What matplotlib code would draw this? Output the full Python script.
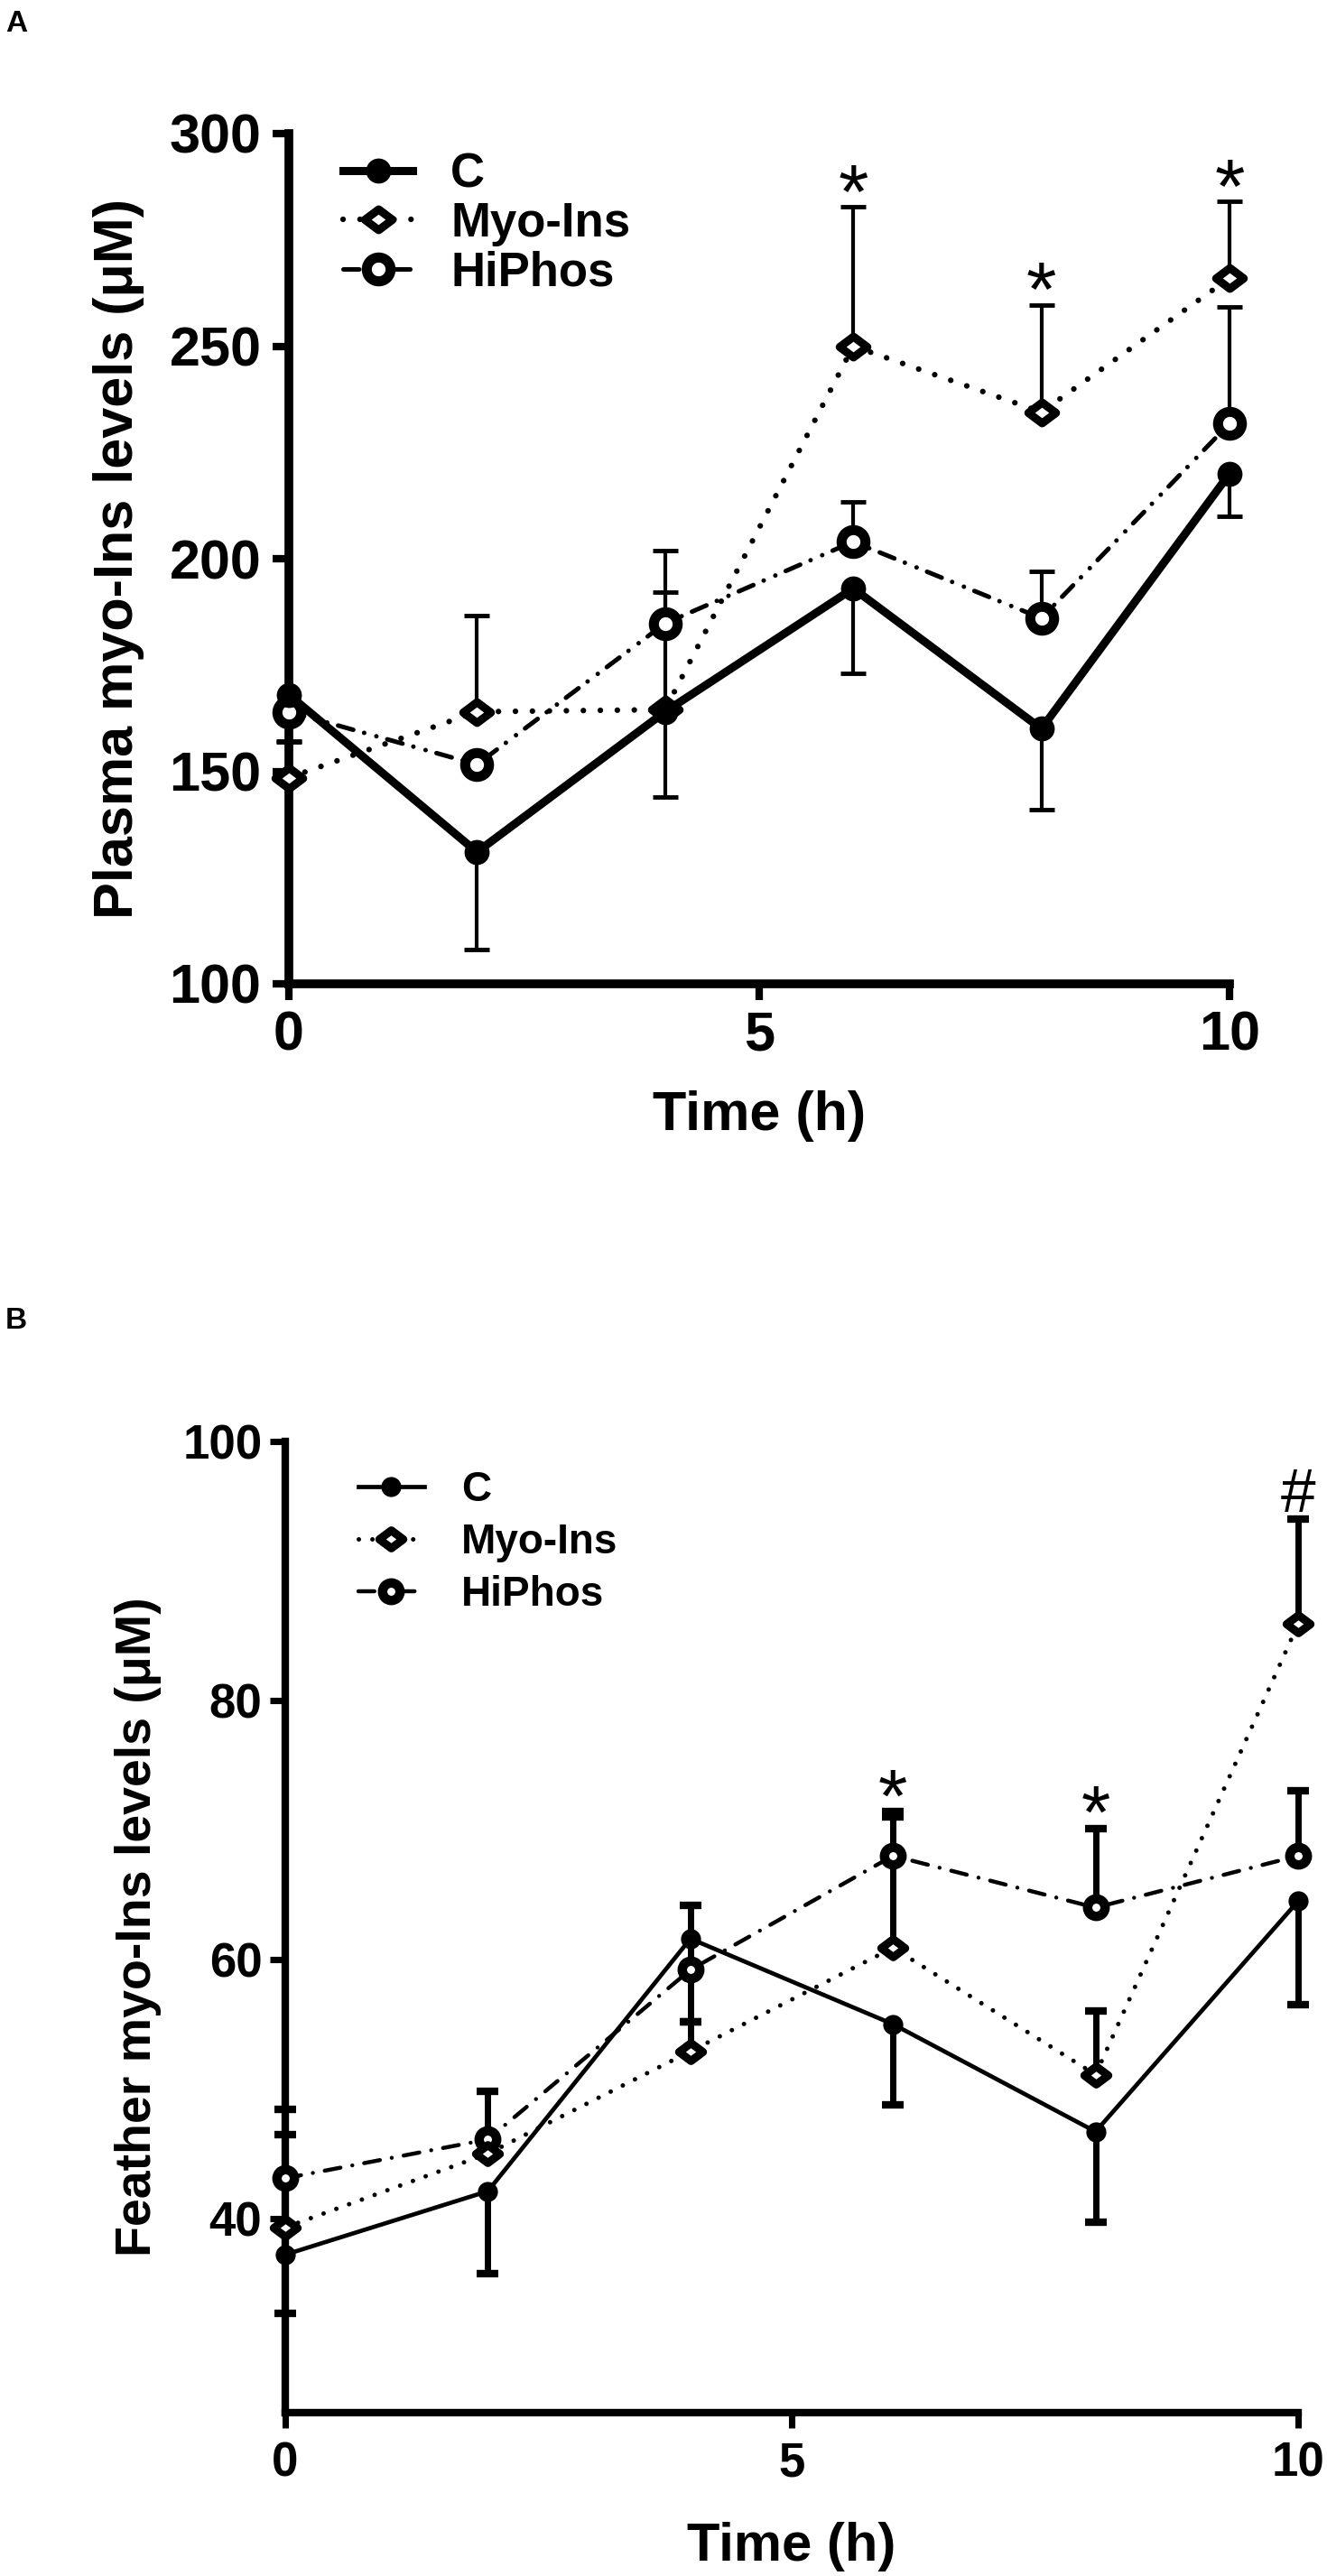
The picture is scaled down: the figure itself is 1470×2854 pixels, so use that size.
import numpy as np
import matplotlib
matplotlib.use('Agg')
import matplotlib.pyplot as plt
from matplotlib.path import Path
from matplotlib.markers import MarkerStyle

plt.rcParams['font.family'] = ['Liberation Sans', 'DejaVu Sans']
plt.rcParams['font.weight'] = 'bold'
plt.rcParams['axes.labelweight'] = 'bold'

time_h = [0, 2, 4, 6, 8, 10]
labels = ['C', 'Myo-Ins', 'HiPhos']

# panel A: plasma (C bars go down, the others go up)
plasma_c = [168, 131, 164, 193, 160, 220]
plasma_c_err = [11, 23, 20, 20, 19, 10]
plasma_myo = [148.5, 164, 164.5, 250, 234.5, 266]
plasma_myo_err = [8.7, 22.6, 37.5, 32.7, 25.2, 18]
plasma_hiphos = [164, 151.6, 184.8, 204, 186, 231.8]
plasma_hiphos_err = [np.nan, np.nan, 7.4, 9.3, 11, 27.4]
plasma_marks = ['', '', '', '*', '*', '*']

# panel B: feather
feather_c = [37.2, 42.1, 61.6, 55.0, 46.7, 64.5]
feather_c_err = [4.5, 6.4, 6.4, 6.2, 7.0, 8.0]
feather_myo = [39.3, 45.0, 52.9, 60.9, 51.1, 85.9]
feather_myo_err = [7.2, np.nan, 2.3, 10.1, 4.9, 8.1]
feather_hiphos = [43.1, 46.1, 59.2, 68.0, 64.0, 68.0]
feather_hiphos_err = [5.3, 3.7, 5.0, 3.4, 6.1, 5.0]
feather_marks = ['', '', '', '*', '*', '#']

diamond = MarkerStyle(Path([(-1, 0), (0, 0.75), (1, 0), (0, -0.75), (-1, 0)],
                           [Path.MOVETO, Path.LINETO, Path.LINETO, Path.LINETO, Path.CLOSEPOLY]),
                      joinstyle='miter')


def one_sided(ax, x, y, err, sign, lw, capw, capt):
    x = np.asarray(x, float)
    y = np.asarray(y, float)
    err = np.asarray(err, float)
    ok = ~np.isnan(err)
    end = y + sign * err
    ax.vlines(x[ok], y[ok], end[ok], colors='k', lw=lw, zorder=2, clip_on=False)
    ax.plot(x[ok], end[ok], ls='none', marker='_', ms=capw, mew=capt, color='k',
            zorder=2, clip_on=False)
    return end


def panel(ax, c, c_err, myo, myo_err, hip, hip_err, marks, st):
    x = np.array(time_h)
    one_sided(ax, x, c, c_err, -1, st['elw'], st['capw'], st['capt'])
    top1 = one_sided(ax, x, myo, myo_err, 1, st['elw'], st['capw'], st['capt'])
    top2 = one_sided(ax, x, hip, hip_err, 1, st['elw'], st['capw'], st['capt'])

    ax.plot(x, c, color='k', lw=st['lw_c'], marker='o', ms=st['ms_c'], mew=0,
            label=labels[0], zorder=5, clip_on=False)
    ax.plot(x, myo, color='k', lw=st['lw_dot'], ls=(0, (0.01, st['dot_gap'])),
            dash_capstyle='round', marker=diamond, ms=st['ms_d'], mew=st['mew_d'],
            mfc='white', mec='k', label=labels[1], zorder=4, clip_on=False)
    ax.plot(x, hip, color='k', lw=st['lw_dd'], ls=(0, st['dd']), dash_capstyle='round',
            marker='o', ms=st['ms_o'], mew=st['mew_o'], mfc='white', mec='k',
            label=labels[2], zorder=3, clip_on=False)

    tops = np.fmax(np.nan_to_num(top1, nan=-1e9), np.nan_to_num(top2, nan=-1e9))
    for xi, t, m in zip(x, tops, marks):
        if m:
            ax.annotate(m, (xi, t), xytext=(0, st['mark_off'][m]), textcoords='offset points',
                        ha='center', va='baseline', fontsize=st['mark_fs'][m],
                        fontweight='normal', annotation_clip=False)

    for s in ['top', 'right']:
        ax.spines[s].set_visible(False)
    for s in ['left', 'bottom']:
        ax.spines[s].set_linewidth(st['spine'])
    ax.tick_params(direction='out', length=st['tlen'], width=st['spine'] * 0.85,
                   labelsize=st['tfs'])
    ax.tick_params(axis='x', pad=st['xpad'])
    ax.tick_params(axis='y', pad=st['ypad'])
    ax.set_xlim(0, 10)
    ax.set_xticks([0, 5, 10])


fig = plt.figure(figsize=(14.7, 28.54), dpi=100)

axA = fig.add_axes([320 / 1470, 1 - 1090 / 2854, 1042 / 1470, 942 / 2854])
stA = dict(elw=3.0, capw=20, capt=3.5, lw_c=6.5, ms_c=20, lw_dot=4.5, dot_gap=3.0,
           ms_d=22, mew_d=6.5, lw_dd=3.6, dd=(3.5, 2.5, 0.01, 2.8, 0.01, 2.5), ms_o=19, mew_o=8,
           mark_off={'*': -9, '#': 4}, mark_fs={'*': 62, '#': 52},
           spine=7, tlen=13, tfs=44, xpad=8, ypad=9)
panel(axA, plasma_c, plasma_c_err, plasma_myo, plasma_myo_err, plasma_hiphos,
      plasma_hiphos_err, plasma_marks, stA)
axA.set_ylim(100, 300)
axA.set_yticks([100, 150, 200, 250, 300])
axA.set_ylabel('Plasma myo-Ins levels (\u03bcM)', fontsize=44, fontweight='bold', va='center')
axA.yaxis.set_label_coords(-0.181, 0.5)
axA.set_xlabel('Time (h)', fontsize=44, fontweight='bold', va='center')
axA.xaxis.set_label_coords(0.5, -0.156)
axA.legend(loc='upper left', bbox_to_anchor=(0.058, 0.978), frameon=False, fontsize=38,
           handlelength=1.45, handletextpad=0.8, labelspacing=0.08, borderpad=0,
           borderaxespad=0)

axB = fig.add_axes([316 / 1470, 1 - 2673 / 2854, 1122 / 1470, 1076 / 2854])
stB = dict(elw=5.0, capw=17, capt=6, lw_c=3.4, ms_c=16, lw_dot=3.6, dot_gap=3.0,
           ms_d=19, mew_d=6.5, lw_dd=3.2, dd=(4.0, 3.0, 0.01, 3.0), ms_o=14, mew_o=7.5,
           mark_off={'*': -8, '#': 6}, mark_fs={'*': 60, '#': 50},
           spine=6, tlen=12, tfs=38, xpad=11, ypad=6.5)
panel(axB, feather_c, feather_c_err, feather_myo, feather_myo_err, feather_hiphos,
      feather_hiphos_err, feather_marks, stB)
axB.set_ylim(25, 100)
axB.set_yticks([40, 60, 80, 100])
axB.set_ylabel('Feather myo-Ins levels (\u03bcM)', fontsize=40, fontweight='bold', va='center')
axB.yaxis.set_label_coords(-0.145, 0.5)
axB.set_xlabel('Time (h)', fontsize=43, fontweight='bold', va='center')
axB.xaxis.set_label_coords(0.5, -0.138)
axB.legend(loc='upper left', bbox_to_anchor=(0.072, 0.97), frameon=False, fontsize=33,
           handlelength=1.6, handletextpad=0.9, labelspacing=0.3, borderpad=0,
           borderaxespad=0)

fig.text(0.004, 0.996, 'A', fontsize=24, fontweight='bold', va='top', ha='left')
fig.text(0.004, 1 - 1448 / 2854, 'B', fontsize=24, fontweight='bold', va='top', ha='left')

fig.savefig('out.png', dpi=100)
